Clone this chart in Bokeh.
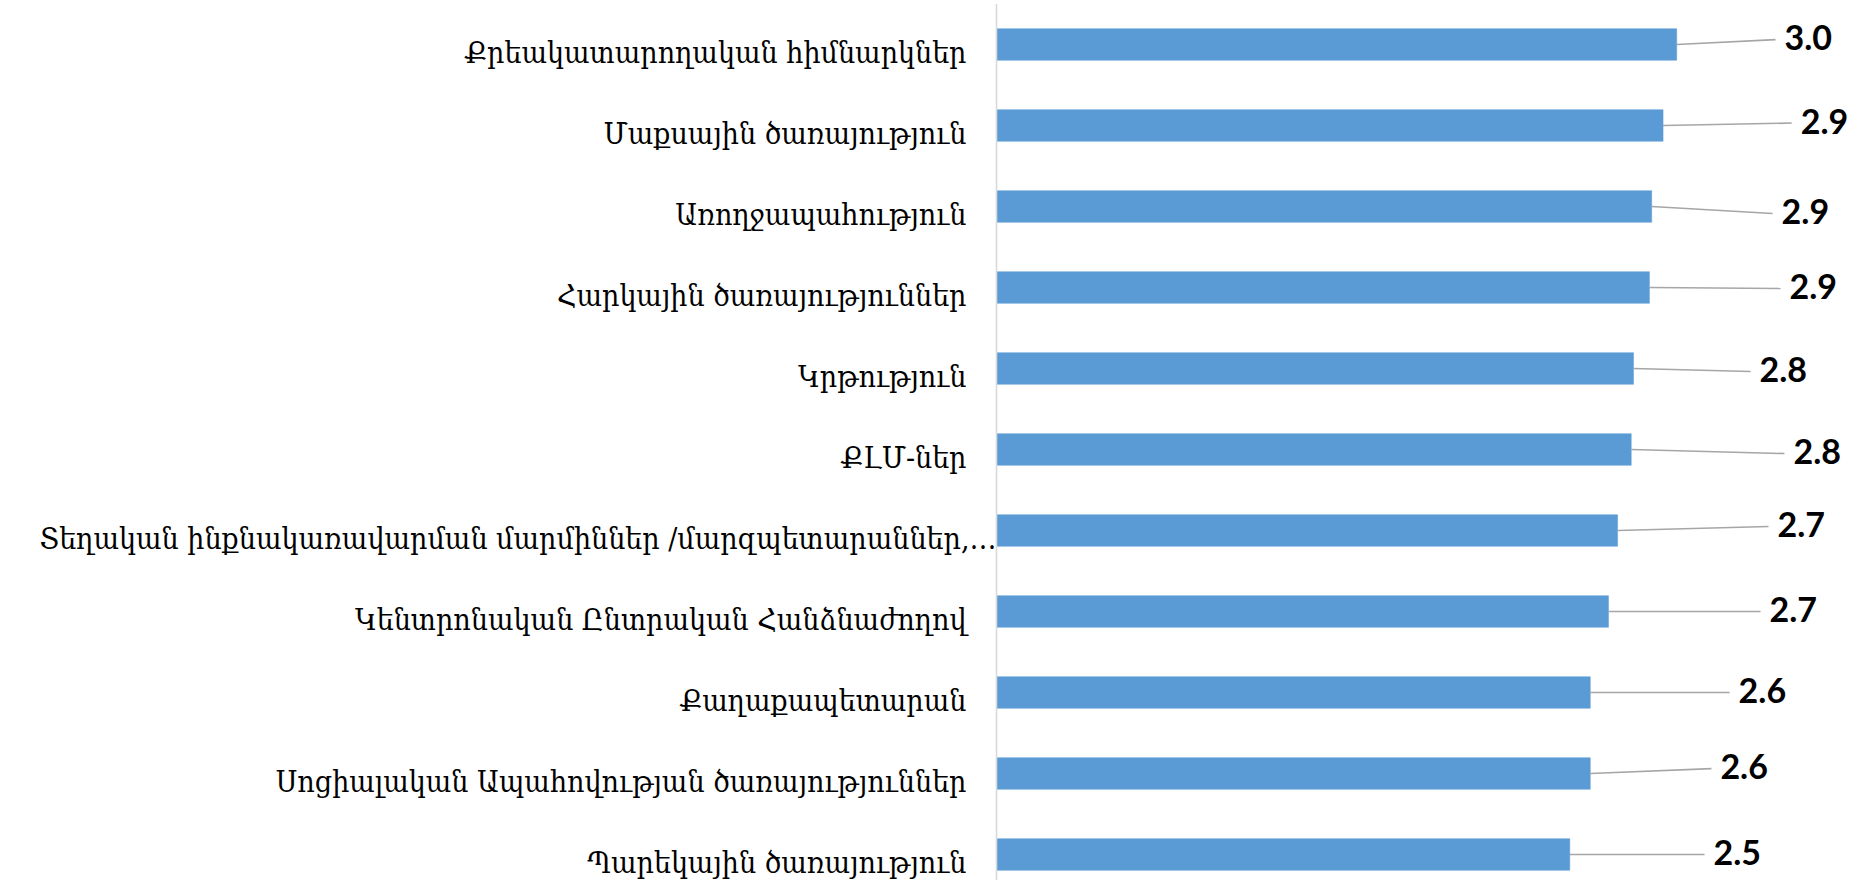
import numpy as np
from bokeh.plotting import figure
from bokeh.models import Range1d, ColumnDataSource
from bokeh.embed import file_html
from bokeh.resources import INLINE
from bokeh.core.properties import value

# ---- data ----
categories = [
    "Քրեակատարողական հիմնարկներ",
    "Մաքսային ծառայություն",
    "Առողջապահություն",
    "Հարկային ծառայություններ",
    "Կրթություն",
    "ՔԼՄ-ներ",
    "Տեղական ինքնակառավարման մարմիններ /մարզպետարաններ,…",
    "Կենտրոնական Ընտրական Հանձնաժողով",
    "Քաղաքապետարան",
    "Սոցիալական Ապահովության ծառայություններ",
    "Պարեկային ծառայություն",
]
values = [2.99, 2.93, 2.88, 2.87, 2.80, 2.79, 2.73, 2.69, 2.61, 2.61, 2.52]
value_labels = [f"{v:.1f}" for v in values]

# data-label placement (Excel leader-line labels), in value units / row units
label_x = [3.464, 3.535, 3.451, 3.486, 3.354, 3.503, 3.433, 3.398, 3.262, 3.182, 3.152]
label_dy = [-0.06, -0.03, 0.086, 0.012, 0.037, 0.05, -0.05, 0.0, 0.0, -0.06, 0.0]

# ---- layout ----
W, H = 1848, 880
PX_PER_UNIT = 227.5
ZERO_X = 996
ROW = 81.0
FIRST = 44
LEADER_GAP = 9 / PX_PER_UNIT

idx = np.arange(len(categories))
lab_y = idx + np.array(label_dy)
lab_x = np.array(label_x)

p = figure(
    width=W, height=H,
    x_range=Range1d(-ZERO_X / PX_PER_UNIT, (W - ZERO_X) / PX_PER_UNIT),
    y_range=Range1d((H - FIRST) / ROW, -FIRST / ROW),
    output_backend="svg", toolbar_location=None,
    x_axis_location=None, y_axis_location=None,
    min_border=0,
)
p.outline_line_color = None
p.background_fill_color = "white"
p.xgrid.visible = False
p.ygrid.visible = False

src = ColumnDataSource(dict(
    y=idx, v=values, cat=categories,
    off=[0 if c.endswith("…") else -30 for c in categories],
    lx=lab_x, ly=lab_y, lab=value_labels, lend=lab_x - LEADER_GAP,
))

p.hbar(y="y", left=0, right="v", height=0.39, source=src,
       fill_color="#5b9bd5", line_color="#5b9bd5", line_width=0.5)

# category axis line
p.segment(x0=[0], y0=[-0.5], x1=[0], y1=[len(categories) - 0.5],
          line_color="#d9d9d9", line_width=1.6)

# leader lines
p.segment(x0="v", y0="y", x1="lend", y1="ly", source=src,
          line_color="#a6a6a6", line_width=1.6)

# category labels
p.text(x=0, y="y", text="cat", x_offset="off", y_offset=7.5, source=src,
       text_align="right", text_baseline="alphabetic",
       text_font=value("DejaVu Serif Condensed"), text_font_size="30px",
       text_color="#000000")

# value labels
p.text(x="lx", y="ly", text="lab", y_offset=-2, source=src,
       text_align="left", text_baseline="middle",
       text_font=value("Lato"), text_font_style="bold", text_font_size="34px",
       text_color="#000000")

open("out.html", "w").write(file_html(p, INLINE))
